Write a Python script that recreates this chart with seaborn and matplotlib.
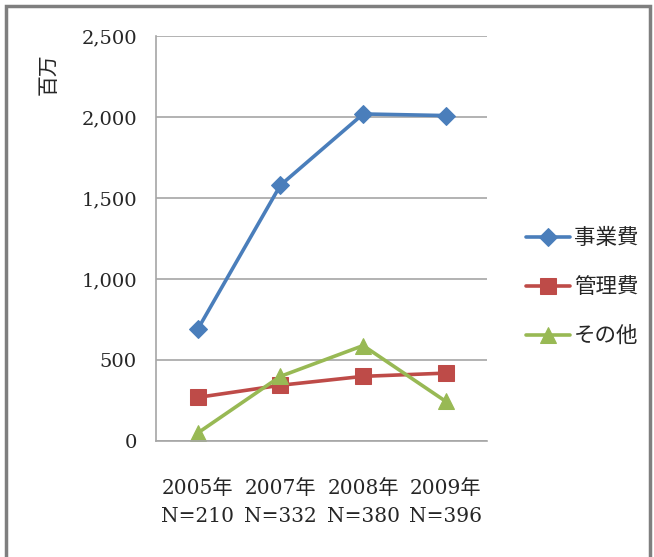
import pandas as pd
import matplotlib
matplotlib.use("Agg")
import matplotlib.pyplot as plt
import seaborn as sns
from matplotlib.patches import Rectangle

# data (unit: 百万)
years = ["2005年\nN=210", "2007年\nN=332", "2008年\nN=380", "2009年\nN=396"]
series_names = ["事業費", "管理費", "その他"]
jigyohi = [690, 1580, 2020, 2010]
kanrihi = [270, 345, 400, 420]
sonota = [50, 400, 590, 245]

colors = ["#4A7EBB", "#BE4B48", "#98B954"]
markers = ["D", "s", "^"]
msizes = [9, 11, 12]

rows = []
for name, vals in zip(series_names, [jigyohi, kanrihi, sonota]):
    for y, v in zip(years, vals):
        rows.append({"year": y, "value": v, "series": name})
df = pd.DataFrame(rows)

sns.set_style("white")
plt.rcParams["font.family"] = ["DejaVu Serif", "Noto Sans CJK JP"]

fig = plt.figure(figsize=(6.54, 5.57), dpi=100)
ax = fig.add_axes([0.239, 0.208, 0.506, 0.727])

for name, c, m, ms in zip(series_names, colors, markers, msizes):
    sub = df[df["series"] == name]
    sns.lineplot(data=sub, x="year", y="value", ax=ax, color=c, marker=m,
                 markersize=ms, markeredgecolor=c, linewidth=2.6,
                 label=name, sort=False)

ax.set_ylim(0, 2500)
ax.set_yticks([0, 500, 1000, 1500, 2000, 2500])
ax.set_yticklabels(["0", "500", "1,000", "1,500", "2,000", "2,500"], fontsize=14)
ax.set_xlim(-0.5, 3.5)
ax.set_xticks(range(len(years)))
ax.set_xticklabels(years, fontsize=14.5, linespacing=1.6)
ax.set_xlabel("")
ax.set_ylabel("")

ax.grid(axis="y", color="#A6A6A6", linewidth=1.2)
ax.set_axisbelow(True)
for s in ["top", "right"]:
    ax.spines[s].set_visible(False)
for s in ["left", "bottom"]:
    ax.spines[s].set_color("#A6A6A6")
    ax.spines[s].set_linewidth(1.2)

# y ticks: small outward marks; x ticks: marks between categories
ax.tick_params(axis="y", which="major", direction="out", length=5, color="#A6A6A6", pad=9)
ax.tick_params(axis="x", which="major", length=0, pad=27)
ax.set_xticks([-0.5, 0.5, 1.5, 2.5, 3.5], minor=True)
ax.tick_params(axis="x", which="minor", direction="out", length=6, color="#A6A6A6")

fig.text(0.075, 0.867, "百万", rotation=90, fontsize=15,
         family=["Noto Sans CJK JP"], ha="center", va="center")

leg = ax.legend(loc="center left", bbox_to_anchor=(1.06, 0.38), frameon=False,
                handlelength=2.0, handletextpad=0.2, labelspacing=1.25,
                prop={"family": ["Noto Sans CJK JP"], "size": 15.5})

# outer frame
fig.patches.append(Rectangle((0.009, -0.01), 0.985, 1.0, transform=fig.transFigure,
                             fill=False, edgecolor="#7F7F7F", linewidth=2.5))

fig.savefig("out.png", dpi=100)
